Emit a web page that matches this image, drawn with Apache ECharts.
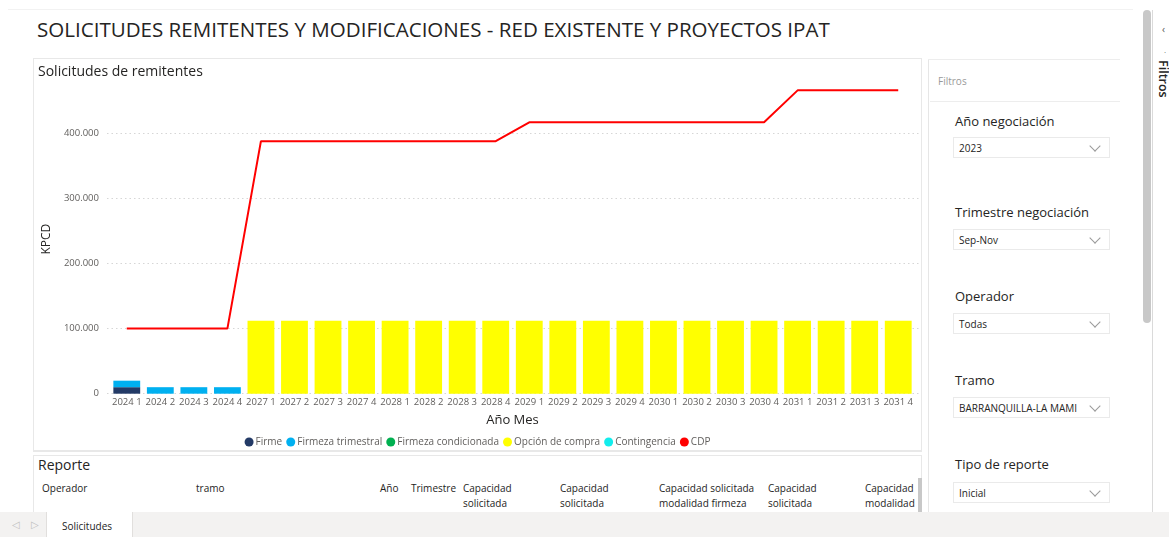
<!DOCTYPE html>
<html>
<head>
<meta charset="utf-8">
<script src="https://cdn.jsdelivr.net/npm/echarts@6/dist/echarts.min.js"></script>
<style>
    body { margin: 0; width: 1169px; height: 537px; overflow: hidden; background: #fff;
           font-family: "Open Sans", "Noto Sans", sans-serif; color: #252423; position: relative; }
    .abs { position: absolute; }
    .hline { position: absolute; height: 1px; background: #EDEDED; }
    .vline { position: absolute; width: 1px; background: #E6E6E6; }
    .slabel { position: absolute; left: 955px; font-size: 13px; color: #252423; }
    .sbox { position: absolute; left: 953px; width: 157px; height: 21px; border: 1px solid #EAEAEA;
            font-size: 10px; line-height: 21px; padding-left: 5px; box-sizing: border-box; color: #252423; }
    .chev { position: absolute; right: 10px; top: 4px; width: 7px; height: 7px;
            border-right: 1px solid #9a9a9a; border-bottom: 1px solid #9a9a9a; transform: rotate(45deg); }
    .th { position: absolute; top: 481px; font-size: 10px; line-height: 15px; color: #252423; }
</style>
</head>
<body>
<div class="hline" style="left:8px;top:9px;width:1125px;background:#F2F2F2"></div>
<div class="abs" style="left:37px;top:15px;font-size:20.55px;color:#252423;white-space:nowrap;">SOLICITUDES REMITENTES Y MODIFICACIONES - RED EXISTENTE Y PROYECTOS IPAT</div>

<!-- chart visual frame -->
<div class="abs" style="left:33px;top:58px;width:889px;height:394px;border:1px solid #E8E8E8;border-bottom:2px solid #E8E8E8;box-sizing:border-box;"></div>
<div id="chart" class="abs" style="left:33px;top:58px;width:889px;height:394px;"></div>

<!-- report table -->
<div class="abs" style="left:33px;top:455px;width:889px;height:60px;border:1px solid #E8E8E8;box-sizing:border-box;"></div>
<div class="abs" style="left:38px;top:455px;font-size:14px;">Reporte</div>
<div class="th" style="left:42px">Operador</div>
<div class="th" style="left:196px">tramo</div>
<div class="th" style="left:380px">Año</div>
<div class="th" style="left:411px">Trimestre</div>
<div class="th" style="left:463px">Capacidad<br>solicitada</div>
<div class="th" style="left:560px">Capacidad<br>solicitada</div>
<div class="th" style="left:659px">Capacidad solicitada<br>modalidad firmeza</div>
<div class="th" style="left:768px">Capacidad<br>solicitada</div>
<div class="th" style="left:865px">Capacidad<br>modalidad</div>
<div class="abs" style="left:918px;top:478px;width:4px;height:34px;background:#C8C8C8;"></div>

<!-- filter pane -->
<div class="vline" style="left:928px;top:59px;height:453px;"></div>
<div class="hline" style="left:928px;top:59px;width:192px;"></div>
<div class="abs" style="left:938px;top:74px;font-size:10px;color:#9A9A9A;">Filtros</div>
<div class="hline" style="left:930px;top:101px;width:190px;"></div>

<div class="slabel" style="top:112px">Año negociación</div>
<div class="sbox" style="top:137px">2023<span class="chev"></span></div>
<div class="slabel" style="top:203px">Trimestre negociación</div>
<div class="sbox" style="top:229px">Sep-Nov<span class="chev"></span></div>
<div class="slabel" style="top:287px">Operador</div>
<div class="sbox" style="top:313px">Todas<span class="chev"></span></div>
<div class="slabel" style="top:371px">Tramo</div>
<div class="sbox" style="top:397px">BARRANQUILLA-LA MAMI<span class="chev"></span></div>
<div class="slabel" style="top:455px">Tipo de reporte</div>
<div class="sbox" style="top:482px">Inicial<span class="chev"></span></div>

<!-- scrollbar and collapsed pane -->
<div class="abs" style="left:1143px;top:10px;width:8px;height:313px;background:#C8C8C8;border-radius:4px;"></div>
<div class="vline" style="left:1152px;top:10px;height:502px;background:#DADADA"></div>
<div class="abs" style="left:1162px;top:22px;font-size:10px;color:#555;">‹</div>
<div class="abs" style="left:1164px;top:46px;font-size:8px;color:#555;">·</div>
<div class="abs" style="left:1172px;top:60px;font-size:12.5px;font-weight:600;color:#252423;transform-origin:0 0;transform:rotate(90deg);">Filtros</div>

<!-- page tabs -->
<div class="abs" style="left:0;top:512px;width:1169px;height:25px;background:#F3F2F1;"></div>
<div class="abs" style="left:46px;top:512px;width:87px;height:25px;background:#fff;border-left:1px solid #E1DFDD;border-right:1px solid #E1DFDD;box-sizing:border-box;"></div>
<div class="abs" style="left:62px;top:519px;font-size:10px;color:#252423;">Solicitudes</div>
<div class="abs" style="left:12px;top:517px;font-size:10px;color:#C0C0C0;">◁</div>
<div class="abs" style="left:31px;top:517px;font-size:10px;color:#C0C0C0;">▷</div>

<script>
var categories = ['2024 1', '2024 2', '2024 3', '2024 4',
    '2027 1', '2027 2', '2027 3', '2027 4', '2028 1', '2028 2', '2028 3', '2028 4',
    '2029 1', '2029 2', '2029 3', '2029 4', '2030 1', '2030 2', '2030 3', '2030 4',
    '2031 1', '2031 2', '2031 3', '2031 4'];

var firme = [10000, null, null, null, null, null, null, null, null, null, null, null,
    null, null, null, null, null, null, null, null, null, null, null, null];
var firmezaTrimestral = [10000, 10000, 10000, 10000, null, null, null, null, null, null, null, null,
    null, null, null, null, null, null, null, null, null, null, null, null];
var firmezaCondicionada = [null, null, null, null, null, null, null, null, null, null, null, null,
    null, null, null, null, null, null, null, null, null, null, null, null];
var opcionCompra = [null, null, null, null, 112000, 112000, 112000, 112000, 112000, 112000, 112000, 112000,
    112000, 112000, 112000, 112000, 112000, 112000, 112000, 112000, 112000, 112000, 112000, 112000];
var contingencia = [null, null, null, null, null, null, null, null, null, null, null, null,
    null, null, null, null, null, null, null, null, null, null, null, null];
var cdp = [100000, 100000, 100000, 100000, 388000, 388000, 388000, 388000, 388000, 388000, 388000, 388000,
    417000, 417000, 417000, 417000, 417000, 417000, 417000, 417000, 466000, 466000, 466000, 466000];

var yMax = 475000;
var yStep = 100000;

function miles(v) {
    return String(v).replace(/\B(?=(\d{3})+(?!\d))/g, '.');
}

var chart = echarts.init(document.getElementById('chart'));
var font = '"Open Sans", "Noto Sans", sans-serif';
var grey = '#605E5C';

function bar(name, data, color) {
    return {
        name: name, type: 'bar', stack: 'total', data: data,
        xAxisIndex: 0, yAxisIndex: 0,
        barCategoryGap: '20%',
        itemStyle: {color: color}
    };
}

chart.setOption({
    animation: false,
    textStyle: {fontFamily: font},
    title: {
        text: 'Solicitudes de remitentes', left: 0, top: 2,
        textStyle: {fontSize: 14, fontWeight: 'normal', color: '#252423', fontFamily: font}
    },
    legend: {
        left: 'center', top: 374, icon: 'circle', itemWidth: 9, itemHeight: 9, itemGap: 4,
        textStyle: {fontSize: 10, color: grey, padding: [0, 0, 0, -3]},
        data: ['Firme', 'Firmeza trimestral', 'Firmeza condicionada', 'Opción de compra', 'Contingencia', 'CDP']
    },
    grid: [
        {left: 77, right: 7, top: 26.5, bottom: 58.3},
        {left: 67, right: 2, top: 26.5, bottom: 58.3}
    ],
    xAxis: [
        {
            type: 'category', gridIndex: 0, data: categories,
            axisLine: {show: false}, axisTick: {show: false},
            axisLabel: {interval: 0, fontSize: 9.5, color: grey, margin: 4},
            name: 'Año Mes', nameLocation: 'middle', nameGap: 20,
            nameTextStyle: {fontSize: 13, color: '#252423'}
        },
        {type: 'value', gridIndex: 1, show: false}
    ],
    yAxis: [
        {type: 'value', gridIndex: 0, min: 0, max: yMax, interval: yStep, show: false},
        {
            type: 'value', gridIndex: 1, min: 0, max: yMax, interval: yStep,
            axisLine: {show: false}, axisTick: {show: false},
            axisLabel: {fontSize: 9.5, color: grey, margin: 8, showMaxLabel: false, formatter: miles},
            splitLine: {showMaxLine: false, lineStyle: {color: '#D6D6D6', type: [1.5, 3], width: 1}},
            name: 'KPCD', nameLocation: 'middle', nameGap: 50,
            nameTextStyle: {fontSize: 12, color: '#252423'}
        }
    ],
    series: [
        bar('Firme', firme, '#233A66'),
        bar('Firmeza trimestral', firmezaTrimestral, '#00B0F0'),
        bar('Firmeza condicionada', firmezaCondicionada, '#00B050'),
        bar('Opción de compra', opcionCompra, '#FFFF00'),
        bar('Contingencia', contingencia, '#12EDED'),
        {
            name: 'CDP', type: 'line', data: cdp, xAxisIndex: 0, yAxisIndex: 0,
            symbol: 'none', itemStyle: {color: '#FF0000'},
            lineStyle: {color: '#FF0000', width: 2}
        }
    ]
});
</script>
</body>
</html>
